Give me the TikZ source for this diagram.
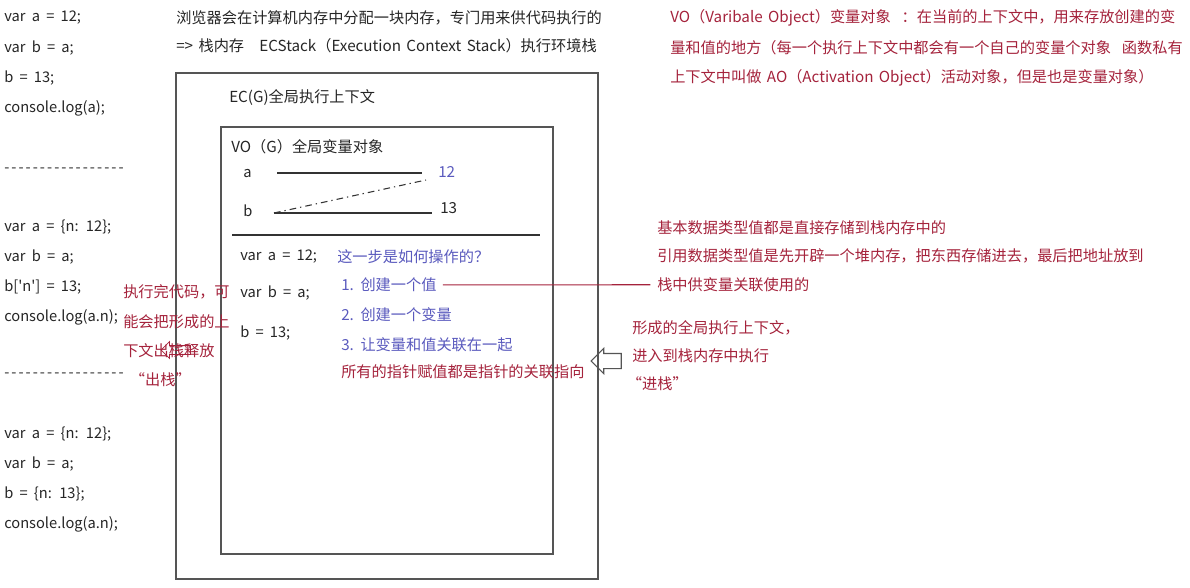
\documentclass[tikz,border=0pt]{standalone}
\usepackage{fontspec}
\setmainfont{Noto Sans CJK SC}[WordSpace=1.6]
\newfontfamily\codefont{Noto Sans CJK SC}[Ligatures=TeXOff, WordSpace=1.9]
\newfontfamily\cutfont{Noto Sans CJK SC}[Ligatures=TeXOff, LetterSpace=14]
\usetikzlibrary{positioning, shapes.arrows}
\definecolor{notered}{RGB}{165, 35, 60}
\definecolor{noteblue}{RGB}{90, 90, 190}
\definecolor{framegray}{RGB}{85, 85, 85}

\begin{document}
\begin{tikzpicture}[
    x=0.75pt, y=-0.75pt,
    txt/.style={inner sep=0pt, anchor=west, font=\fontsize{11.4pt}{13pt}\selectfont},
    code/.style={txt, text=black!85, font=\codefont\fontsize{11pt}{13pt}\selectfont},
    plain/.style={txt, text=black!85},
    note/.style={txt, text=notered},
    ask/.style={txt, text=noteblue},
    frame/.style={draw=framegray, line width=1.1pt},
    slot/.style={draw=black!80, line width=0.8pt},
    pointer/.style={draw=black!80, line width=0.8pt, dash pattern=on 5pt off 3pt on 1pt off 3pt},
    hollow/.style={single arrow, draw, shape border rotate=180, single arrow tip angle=90,
        inner sep=0pt, single arrow head indent=0pt}
]
    \fill[white] (0,0) rectangle (1190,588);
    \useasboundingbox (0,0) rectangle (1190,588);

    % Code on the left
    \node[code] (c1) at (4,18) {var a = 12;};
    \node[code, below=22.5pt of c1.west, anchor=west] (c2) {var b = a;};
    \node[code, below=22.5pt of c2.west, anchor=west] (c3) {b = 13;};
    \node[code, below=22.5pt of c3.west, anchor=west] (c4) {console.log(a);};
    \node[code, font=\cutfont\fontsize{11pt}{13pt}\selectfont] (cut1) at (4,170) {-----------------};

    \node[code] (d1) at (4,227) {var a = \{n: 12\};};
    \node[code, below=22.5pt of d1.west, anchor=west] (d2) {var b = a;};
    \node[code, below=22.5pt of d2.west, anchor=west] (d3) {b['n'] = 13;};
    \node[code, below=22.5pt of d3.west, anchor=west] (d4) {console.log(a.n);};
    \node[code, font=\cutfont\fontsize{11pt}{13pt}\selectfont] (cut2) at (4,375) {-----------------};

    \node[code] (e1) at (4,434) {var a = \{n: 12\};};
    \node[code, below=22.5pt of e1.west, anchor=west] (e2) {var b = a;};
    \node[code, below=22.5pt of e2.west, anchor=west] (e3) {b = \{n: 13\};};
    \node[code, below=22.5pt of e3.west, anchor=west] (e4) {console.log(a.n);};

    % Stack memory
    \node[plain] (mem1) at (176,18) {浏览器会在计算机内存中分配一块内存，专门用来供代码执行的};
    \node[plain, below=21pt of mem1.west, anchor=west] (mem2) {=> 栈内存\quad ECStack（Execution Context Stack）执行环境栈};

    \draw[frame] (176,73) rectangle (598,579);
    \node[plain] (ecg) at (229,98) {EC(G)全局执行上下文};
    \draw[frame] (221,127) rectangle (553,554);
    \node[plain] (vog) at (231,147) {VO（G）全局变量对象};

    % Variables and values
    \node[code] (va) at (243,174) {a};
    \node[code] (vb) at (243,211) {b};
    \node[ask] (v12) at (438,172) {12};
    \node[plain] (v13) at (440,208) {13};
    \coordinate (aL) at (277,173);
    \coordinate (bL) at (274,213);
    \draw[slot] (aL) -- ([xshift=-12pt]v12.west |- aL);
    \draw[slot] (bL) -- ([xshift=-6pt]v13.west |- bL);
    \draw[pointer] (bL) -- ([xshift=-9pt, yshift=-6pt]v12.west);
    \draw[slot] (232,235) -- (540,235);

    % Steps
    \node[code] (k1) at (240,257) {var a = 12;};
    \node[code] (k2) at (240,293) {var b = a;};
    \node[code] (k3) at (240,333) {b = 13;};
    \node[ask] (q) at (337,257) {这一步是如何操作的？};
    \node[ask] (s1) at (341,285) {1. 创建一个值};
    \node[ask, below=22.5pt of s1.west, anchor=west] (s2) {2. 创建一个变量};
    \node[ask, below=22.5pt of s2.west, anchor=west] (s3) {3. 让变量和值关联在一起};
    \node[note, below=20pt of s3.west, anchor=west] (ptr) {所有的指针赋值都是指针的关联指向};

    % Notes on the right
    \node[note] (vo1) at (670,18) {VO（Varibale Object）变量对象\ \ ：在当前的上下文中，用来存放创建的变};
    \node[note, below=22.5pt of vo1.west, anchor=west] (vo2) {量和值的地方（每一个执行上下文中都会有一个自己的变量个对象\ \ 函数私有};
    \node[note, below=22.5pt of vo2.west, anchor=west] (vo3) {上下文中叫做 AO（Activation Object）活动对象，但是也是变量对象）};

    \node[note] (m1) at (657,228) {基本数据类型值都是直接存储到栈内存中的};
    \node[note, below=21pt of m1.west, anchor=west] (m2) {引用数据类型值是先开辟一个堆内存，把东西存储进去，最后把地址放到};
    \node[note, below=21.5pt of m2.west, anchor=west] (m3) {栈中供变量关联使用的};
    \draw[notered, line width=0.8pt, shorten <=4.5pt, shorten >=5pt] (s1) -- (m3);

    \node[note] (p1) at (632,328) {形成的全局执行上下文，};
    \node[note, below=21pt of p1.west, anchor=west] (p2) {进入到栈内存中执行};
    \node[note, below=21pt of p2.west, anchor=west, xshift=-4pt] (p3) {“进栈”};
    \node[hollow, draw=framegray, line width=0.8pt, minimum height=22.5pt, minimum width=18pt,
        inner ysep=5.25pt, single arrow head extend=3.75pt] (push) at (610,361) {};

    % Notes on the left
    \node[note] (l1) at (123,292) {执行完代码，可};
    \node[note, below=22pt of l1.west, anchor=west] (l2) {能会把形成的上};
    \node[note, below=22pt of l2.west, anchor=west] (l3) {下文出栈释放};
    \node[note, below=22pt of l3.west, anchor=west, xshift=5pt] (l4) {“出栈”};
    \node[hollow, draw=notered, line width=0.6pt, minimum height=22pt, minimum width=12pt,
        inner ysep=3pt, single arrow head extend=3pt] (pop) at (178,350) {};
\end{tikzpicture}
\end{document}
